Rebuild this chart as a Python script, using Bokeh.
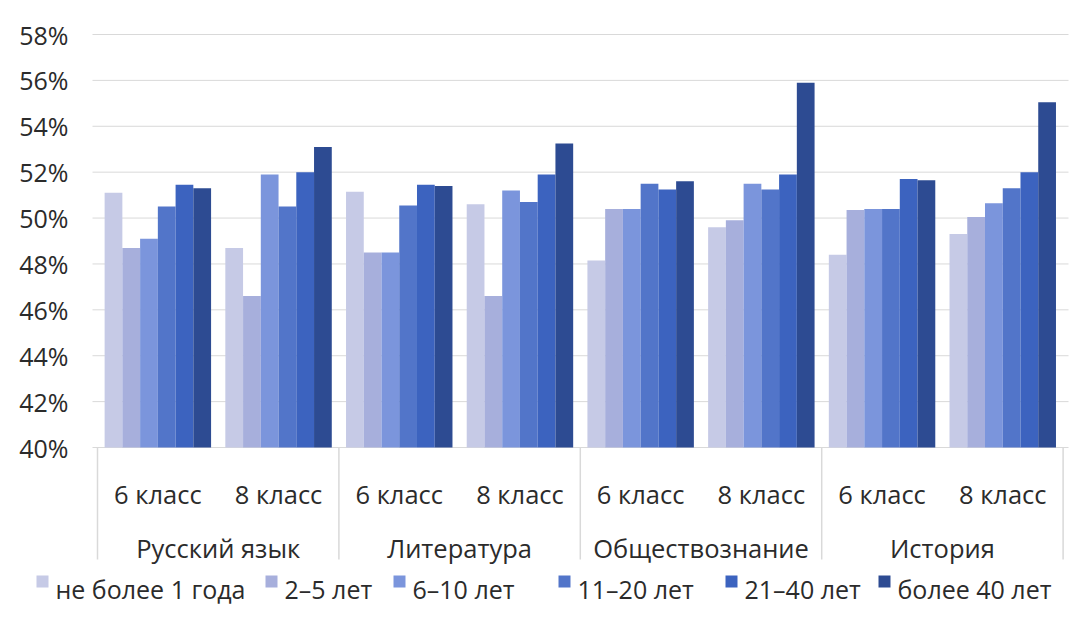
from bokeh.plotting import figure
from bokeh.models import Range1d, ColumnDataSource
from bokeh.transform import dodge
from bokeh.core.properties import value
from bokeh.embed import file_html
from bokeh.resources import INLINE

subjects = ["Русский язык", "Литература", "Обществознание", "История"]
classes = ["6 класс", "8 класс"]
series = ["не более 1 года", "2–5 лет", "6–10 лет", "11–20 лет", "21–40 лет", "более 40 лет"]
y_ticks = [40, 42, 44, 46, 48, 50, 52, 54, 56, 58]
y_tick_labels = [f"{t}%" for t in y_ticks]

s1 = [51.1, 48.7, 51.15, 50.6, 48.15, 49.6, 48.4, 49.3]
s2 = [48.7, 46.6, 48.5, 46.6, 50.4, 49.9, 50.35, 50.05]
s3 = [49.1, 51.9, 48.5, 51.2, 50.4, 51.5, 50.4, 50.65]
s4 = [50.5, 50.5, 50.55, 50.7, 51.5, 51.25, 50.4, 51.3]
s5 = [51.45, 52.0, 51.45, 51.9, 51.25, 51.9, 51.7, 52.0]
s6 = [51.3, 53.1, 51.4, 53.25, 51.6, 55.9, 51.65, 55.05]
values = [s1, s2, s3, s4, s5, s6]

colors = ["#c6cae6", "#a7afdc", "#7b95dc", "#5275c9", "#3c63bf", "#2d4b92"]
TEXT = "#2b2b2b"
GRID = "#d9d9d9"
FONT = "Open Sans"

# ---- layout (page pixels) ----
H = 607               # figure height (page 8 .. 615)
XS = 120.7            # px per class slot
X0 = 105              # page x of first slot's left edge
Y58 = 42              # page y of the 58% gridline
Y40 = 455             # page y of the 40% baseline
PX = (Y40 - Y58) / 18.0
def xp(px):           # page x -> data x
    return (px - X0) / XS
def yp(py):           # page y -> data y
    return 40 + (Y40 - py) / PX
legend_text_left = [63, 292, 420, 585, 752, 905]

labels = [(s, c) for s in subjects for c in classes]
centers = [k + 0.5 for k in range(len(labels))]

p = figure(width=1070, height=H, output_backend="svg", toolbar_location=None, title=None,
           x_axis_type=None, y_axis_type=None,
           x_range=Range1d(xp(8), xp(1078)), y_range=Range1d(yp(8 + H), yp(8)),
           min_border_left=0, min_border_top=0, min_border_right=0, min_border_bottom=0)
p.grid.visible = False
p.outline_line_color = None

# horizontal gridlines and y tick labels
p.segment(x0=xp(100), x1=xp(1076), y0=y_ticks, y1=y_ticks, line_color=GRID, line_width=1)
p.text(x=[xp(76)] * len(y_ticks), y=y_ticks, text=y_tick_labels,
       text_align="right", text_baseline="middle",
       text_font=value(FONT), text_font_size="25px", text_color=TEXT)

# bars
data = {"xc": centers}
for i, v in enumerate(values):
    data[f"s{i}"] = v
src = ColumnDataSource(data)
w = 0.147
for i in range(6):
    p.vbar(x=dodge("xc", (i - 2.5) * w), top=f"s{i}", bottom=40,
           width=w, source=src, fill_color=colors[i], line_color=None)

# two-level category labels
p.text(x=centers, y=[yp(Y40 + 46)] * len(labels), text=[c for _, c in labels],
       text_align="center", text_baseline="alphabetic",
       text_font=value(FONT), text_font_size="25.5px", text_color=TEXT)
subj_centers = [2 * j + 1 for j in range(len(subjects))]
p.text(x=subj_centers, y=[yp(Y40 + 100)] * len(subjects), text=subjects,
       text_align="center", text_baseline="alphabetic",
       text_font=value(FONT), text_font_size="25.5px", text_color=TEXT)

# group separators
seps = [2 * j for j in range(len(subjects) + 1)]
p.segment(x0=seps, x1=seps, y0=40, y1=yp(Y40 + 112), line_color=GRID, line_width=1.5)

# legend
p.rect(x=[xp(t - 13) for t in legend_text_left], y=[yp(589)] * len(series),
       width=12, height=12, width_units="screen", height_units="screen",
       fill_color=colors, line_color=None)
p.text(x=[xp(t) for t in legend_text_left], y=[yp(596)] * len(series), text=series,
       text_align="left", text_baseline="alphabetic",
       text_font=value(FONT), text_font_size="25px", text_color=TEXT)

open("out.html", "w").write(file_html(p, INLINE))
